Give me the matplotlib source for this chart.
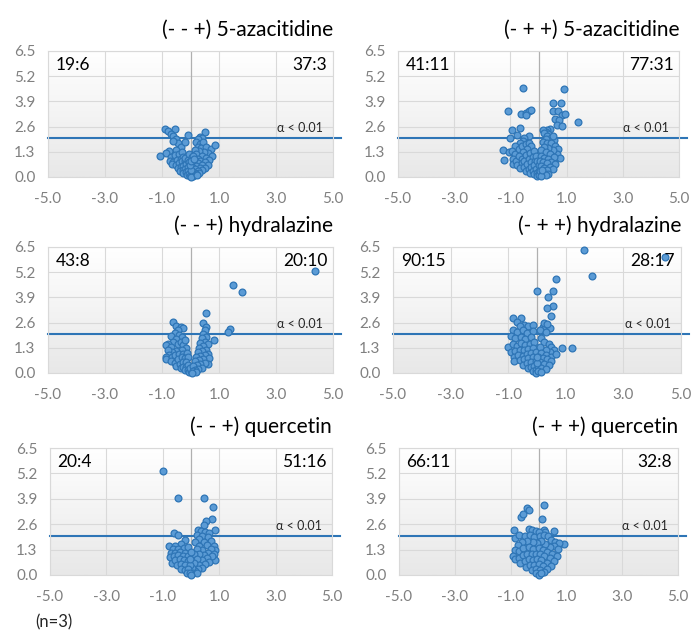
import numpy as np
import matplotlib
matplotlib.use("Agg")
import matplotlib.pyplot as plt
from matplotlib.colors import LinearSegmentedColormap

plt.rcParams['font.family'] = ['Lato', 'DejaVu Sans']

# panel titles and the counts printed in the upper corners
titles = ["(- - +) 5-azacitidine", "(- + +) 5-azacitidine",
          "(- - +) hydralazine", "(- + +) hydralazine",
          "(- - +) quercetin", "(- + +) quercetin"]
left_counts = ["19:6", "41:11", "43:8", "90:15", "20:4", "66:11"]
right_counts = ["37:3", "77:31", "20:10", "28:17", "51:16", "32:8"]

x_ticks = [-5.0, -3.0, -1.0, 1.0, 3.0, 5.0]
y_ticks = [0.0, 1.3, 2.6, 3.9, 5.2, 6.5]
alpha_cut = 2.0  # -log10(0.01)

# (log2 fold change, -log10 p)
aza_dd = [(-0.88, 2.50), (-0.55, 2.48), (-0.80, 2.35), (-0.70, 2.22), (-0.60, 2.10), (-0.50, 1.95),
          (-0.45, 1.75), (-0.62, 1.85), (-0.35, 1.55), (-0.50, 1.40), (-0.75, 1.35), (-0.85, 1.25),
          (-1.07, 1.10), (-0.68, 1.05), (-0.55, 1.15), (-0.40, 1.20), (-0.30, 1.30), (-0.72, 0.85),
          (-0.60, 0.75), (-0.48, 0.90), (-0.35, 0.95), (-0.25, 1.05), (-0.65, 0.65), (-0.50, 0.60),
          (-0.40, 0.70), (-0.30, 0.80), (-0.20, 0.85), (-0.45, 0.45), (-0.35, 0.50), (-0.25, 0.55),
          (-0.15, 0.65), (-0.38, 0.30), (-0.28, 0.35), (-0.18, 0.40), (-0.10, 0.50), (-0.25, 0.20),
          (-0.15, 0.25), (-0.08, 0.30), (-0.12, 0.12), (-0.05, 0.15), (-0.03, 0.05), (-0.20, 1.00),
          (-0.10, 0.90), (-0.05, 0.75), (-0.05, 1.20), (0.05, 1.05), (-0.08, 2.16), (-0.19, 1.82),
          (0.50, 2.30), (0.35, 2.05), (0.42, 2.00), (0.28, 1.95), (0.20, 1.80), (0.32, 1.70),
          (0.45, 1.80), (0.25, 1.55), (0.38, 1.50), (0.55, 1.55), (0.72, 1.45), (0.86, 1.65),
          (0.60, 1.25), (0.75, 1.10), (0.48, 1.30), (0.30, 1.35), (0.15, 1.40), (0.20, 1.20),
          (0.40, 1.10), (0.55, 1.00), (0.65, 0.90), (0.10, 1.10), (0.25, 0.95), (0.35, 0.85),
          (0.50, 0.75), (0.60, 0.60), (0.15, 0.85), (0.28, 0.70), (0.42, 0.60), (0.50, 0.45),
          (0.08, 0.70), (0.20, 0.55), (0.32, 0.45), (0.40, 0.35), (0.05, 0.50), (0.15, 0.40),
          (0.25, 0.30), (0.30, 0.20), (0.10, 0.25), (0.18, 0.15), (0.05, 0.10), (0.10, 0.05),
          (0.00, 0.00), (0.22, 0.10), (0.02, 0.35), (-0.02, 0.60), (0.00, 0.85), (0.12, 0.95)]

aza_pp = [(-0.56, 4.60), (0.92, 4.52), (-1.07, 3.40), (-0.62, 3.25), (-0.45, 3.30), (-0.35, 3.40),
          (-0.25, 3.45), (-0.45, 3.20), (0.50, 3.80), (0.80, 3.80), (0.50, 3.40), (0.70, 3.40),
          (0.85, 3.20), (0.95, 3.25), (0.60, 3.00), (0.72, 2.95), (0.65, 2.70), (0.85, 2.65),
          (1.42, 2.85), (0.40, 2.50), (0.30, 2.40), (0.25, 2.30), (-0.95, 2.45), (-0.65, 2.55),
          (-1.00, 2.00), (-0.35, 2.10), (-1.25, 1.39), (-1.22, 0.88), (-1.05, 1.30),
          (-0.75, 2.15), (-0.50, 2.00), (-0.55, 1.85), (-0.65, 1.75), (-0.85, 1.60), (-0.95, 1.35),
          (-0.85, 1.20), (-0.90, 0.95), (-0.90, 0.65), (-0.80, 0.80), (-0.70, 1.45), (-0.60, 1.60),
          (-0.45, 1.70), (-0.35, 1.75), (-0.25, 1.60), (-0.40, 1.45), (-0.55, 1.30), (-0.70, 1.10),
          (-0.60, 0.95), (-0.45, 1.15), (-0.30, 1.25), (-0.15, 1.35), (-0.75, 0.60), (-0.60, 0.70),
          (-0.50, 0.85), (-0.35, 0.95), (-0.20, 1.05), (-0.65, 0.45), (-0.50, 0.50), (-0.40, 0.65),
          (-0.25, 0.75), (-0.12, 0.85), (-0.45, 0.30), (-0.35, 0.40), (-0.25, 0.50), (-0.15, 0.60),
          (-0.30, 0.20), (-0.20, 0.30), (-0.10, 0.40), (-0.15, 0.15), (-0.05, 0.20), (-0.05, 0.05),
          (-0.10, 1.10), (-0.05, 0.80), (0.00, 0.60), (0.00, 0.30), (0.00, 0.10),
          (0.35, 2.20), (0.15, 2.45), (0.20, 2.25), (0.30, 2.10), (0.45, 2.00), (0.55, 1.90),
          (0.50, 2.10), (0.25, 1.95), (0.15, 1.80), (0.30, 1.75), (0.45, 1.75), (0.60, 1.60),
          (0.70, 1.45), (0.65, 1.20), (0.75, 1.00), (0.55, 0.85), (0.50, 1.40), (0.35, 1.50),
          (0.20, 1.55), (0.10, 1.40), (0.25, 1.30), (0.40, 1.20), (0.55, 1.05), (0.10, 1.10),
          (0.20, 1.00), (0.35, 0.95), (0.45, 0.75), (0.60, 0.65), (0.05, 0.85), (0.15, 0.75),
          (0.30, 0.70), (0.40, 0.50), (0.50, 0.40), (0.10, 0.55), (0.20, 0.45), (0.30, 0.35),
          (0.35, 0.15), (0.05, 0.30), (0.15, 0.20), (0.25, 0.10), (0.08, 0.05), (0.12, 0.35)]

hyd_dd = [(4.37, 5.27), (1.50, 4.54), (1.82, 4.16), (1.39, 2.25), (1.33, 2.10), (0.84, 1.70),
          (-0.63, 2.65), (-0.50, 2.45), (-0.35, 2.35), (-0.25, 2.30), (-0.45, 2.20), (-0.55, 2.05),
          (-0.70, 1.90), (-0.40, 1.95), (-0.30, 1.85), (-0.50, 1.75), (-0.60, 1.60), (-0.78, 1.50),
          (-0.85, 1.45), (-0.70, 1.35), (-0.45, 1.50), (-0.35, 1.60), (-0.25, 1.45), (-0.20, 1.70),
          (-0.15, 1.30), (-0.30, 1.20), (-0.50, 1.15), (-0.65, 1.10), (-0.80, 1.20), (-0.75, 0.95),
          (-0.86, 0.84), (-0.86, 0.70), (-0.65, 0.80), (-0.55, 0.95), (-0.40, 1.00), (-0.25, 1.00),
          (-0.12, 1.05), (-0.70, 0.60), (-0.55, 0.50), (-0.45, 0.70), (-0.30, 0.80), (-0.20, 0.75),
          (-0.10, 0.80), (-0.50, 0.35), (-0.38, 0.45), (-0.25, 0.55), (-0.15, 0.55), (-0.35, 0.25),
          (-0.25, 0.30), (-0.15, 0.30), (-0.08, 0.40), (-0.20, 0.15), (-0.10, 0.15), (-0.05, 0.05),
          (0.00, 0.10), (-0.02, 0.25),
          (0.54, 3.10), (0.45, 2.60), (0.55, 2.35), (0.50, 2.20), (0.45, 2.00), (0.55, 1.85),
          (0.40, 1.80), (0.50, 1.60), (0.35, 1.55), (0.60, 1.50), (0.45, 1.40), (0.30, 1.30),
          (0.55, 1.20), (0.40, 1.15), (0.25, 1.10), (0.62, 1.00), (0.50, 0.95), (0.35, 0.90),
          (0.20, 0.85), (0.65, 0.75), (0.45, 0.70), (0.30, 0.65), (0.15, 0.60), (0.62, 0.45),
          (0.50, 0.50), (0.35, 0.45), (0.22, 0.40), (0.10, 0.35), (0.40, 0.25), (0.28, 0.20),
          (0.15, 0.15), (0.08, 0.10), (0.20, 0.05), (0.05, 0.02)]

hyd_pp = [(1.63, 6.37), (4.44, 5.96), (1.90, 5.02), (0.66, 4.85), (-0.01, 4.23), (0.57, 4.23),
          (0.39, 3.93), (0.57, 3.45), (0.34, 3.35), (0.49, 2.94),
          (-0.85, 2.85), (-0.55, 2.85), (-0.70, 2.65), (-0.45, 2.50), (-0.60, 2.45), (-0.30, 2.45),
          (-0.15, 2.50), (-0.85, 2.20), (-0.70, 2.10), (-0.50, 2.20), (-0.35, 2.05), (-0.15, 2.15),
          (-0.90, 1.90), (-0.75, 1.80), (-0.55, 1.85), (-0.40, 1.75), (-0.20, 1.85), (-1.00, 1.36),
          (-0.85, 1.50), (-0.70, 1.40), (-0.55, 1.55), (-0.40, 1.45), (-0.25, 1.50), (-0.10, 1.60),
          (-0.90, 1.10), (-0.75, 1.15), (-0.60, 1.20), (-0.45, 1.20), (-0.30, 1.25), (-0.15, 1.30),
          (-0.80, 0.85), (-0.65, 0.95), (-0.50, 0.90), (-0.35, 1.00), (-0.20, 1.05), (-0.05, 1.10),
          (-0.80, 0.60), (-0.60, 0.65), (-0.45, 0.70), (-0.30, 0.75), (-0.15, 0.80), (-0.50, 0.40),
          (-0.35, 0.50), (-0.20, 0.55), (-0.05, 0.60), (-0.30, 0.25), (-0.20, 0.30), (-0.10, 0.35),
          (-0.15, 0.12), (-0.05, 0.15), (-0.02, 0.02),
          (0.20, 2.35), (0.45, 2.30), (0.25, 2.60), (0.35, 2.55), (0.10, 2.20), (0.30, 2.10),
          (0.15, 1.80), (0.25, 1.60), (0.40, 1.50), (0.50, 1.35), (0.88, 1.30), (1.20, 1.30),
          (0.60, 1.20), (0.45, 1.10), (0.30, 1.20), (0.10, 1.35), (0.15, 1.05), (0.30, 0.95),
          (0.50, 0.85), (0.65, 1.00), (0.05, 0.85), (0.20, 0.75), (0.35, 0.70), (0.50, 0.60),
          (0.10, 0.55), (0.25, 0.45), (0.40, 0.40), (0.05, 0.35), (0.15, 0.25), (0.30, 0.20),
          (0.05, 0.10), (0.15, 0.05), (0.00, 0.50), (0.00, 0.80)]

que_dd = [(-0.98, 5.30), (-0.45, 3.96), (0.46, 3.93), (0.77, 3.50), (0.73, 2.87), (0.52, 2.74),
          (0.45, 2.55), (0.85, 2.30), (-0.59, 2.17), (-0.45, 2.05), (-0.77, 1.50),
          (0.25, 2.30), (0.35, 2.25), (0.50, 2.20), (0.65, 2.15), (0.20, 2.05), (0.40, 2.00),
          (0.60, 1.95), (0.30, 1.85), (0.70, 1.75), (0.15, 1.70), (0.45, 1.70), (0.55, 1.55),
          (0.80, 1.50), (0.85, 1.30), (0.30, 1.50), (0.70, 1.35), (0.40, 1.30), (0.20, 1.35),
          (0.60, 1.15), (0.80, 1.05), (0.85, 0.77), (0.75, 0.95), (0.45, 1.00), (0.30, 1.05),
          (0.10, 1.10), (0.55, 0.85), (0.40, 0.75), (0.20, 0.80), (0.65, 0.65), (0.50, 0.55),
          (0.30, 0.50), (0.10, 0.60), (0.40, 0.35), (0.25, 0.30), (0.15, 0.20), (0.05, 0.35),
          (0.08, 0.08), (0.20, 0.10),
          (-0.20, 1.80), (-0.35, 1.60), (-0.55, 1.50), (-0.65, 1.35), (-0.45, 1.35), (-0.25, 1.40),
          (-0.10, 1.45), (-0.70, 1.15), (-0.55, 1.15), (-0.40, 1.20), (-0.20, 1.15), (-0.75, 0.90),
          (-0.60, 0.95), (-0.45, 1.00), (-0.30, 0.95), (-0.10, 0.95), (-0.68, 0.60), (-0.55, 0.75),
          (-0.40, 0.80), (-0.25, 0.75), (-0.10, 0.70), (-0.50, 0.50), (-0.35, 0.55), (-0.20, 0.50),
          (-0.05, 0.50), (-0.35, 0.30), (-0.20, 0.25), (-0.10, 0.30), (-0.15, 0.10), (-0.05, 0.12),
          (0.00, 0.00), (-0.02, 0.80), (0.00, 1.20)]

que_pp = [(-0.42, 3.42), (-0.35, 3.35), (0.21, 3.59), (-0.63, 2.99), (-0.55, 3.10), (0.14, 2.86),
          (-0.87, 2.31), (0.56, 2.26), (0.92, 1.59), (-0.35, 2.35), (-0.25, 2.30), (-0.10, 2.25),
          (0.20, 2.30), (0.25, 2.20), (0.00, 2.20),
          (-0.85, 1.90), (-0.70, 2.05), (-0.50, 2.00), (-0.30, 2.05), (-0.15, 1.95), (0.05, 2.00),
          (0.20, 2.05), (0.35, 2.00), (0.45, 1.80), (0.60, 1.70), (0.75, 1.65), (0.55, 1.50),
          (0.70, 1.35), (0.40, 1.45), (0.25, 1.60), (0.10, 1.75), (-0.05, 1.65), (-0.20, 1.70),
          (-0.40, 1.75), (-0.60, 1.70), (-0.75, 1.55), (-0.85, 1.30), (-0.70, 1.25), (-0.55, 1.40),
          (-0.35, 1.45), (-0.20, 1.35), (0.00, 1.40), (0.15, 1.30), (0.30, 1.20), (0.50, 1.10),
          (0.65, 0.95), (-0.90, 0.95), (-0.85, 0.80), (-0.70, 0.85), (-0.55, 1.00), (-0.40, 1.10),
          (-0.25, 1.05), (-0.10, 1.10), (0.05, 1.05), (0.20, 0.95), (0.40, 0.85), (0.55, 0.70),
          (-0.65, 0.60), (-0.50, 0.70), (-0.35, 0.80), (-0.20, 0.75), (-0.05, 0.80), (0.10, 0.75),
          (0.30, 0.60), (0.45, 0.45), (-0.45, 0.40), (-0.30, 0.50), (-0.15, 0.50), (0.00, 0.55),
          (0.15, 0.45), (0.30, 0.30), (-0.25, 0.25), (-0.10, 0.30), (0.05, 0.25), (0.20, 0.15),
          (-0.10, 0.10), (0.00, 0.02), (0.10, 0.08)]

panels = [aza_dd, aza_pp, hyd_dd, hyd_pp, que_dd, que_pp]

# axes boxes in pixels: left, top, right, bottom
boxes = [(48, 51, 333, 177), (398, 51, 679, 177),
         (48, 247, 333, 373), (393, 247, 681, 373),
         (50, 448, 332, 575), (399, 448, 678, 575)]

W, H = 691, 630
fig = plt.figure(figsize=(W / 100, H / 100), dpi=100)

grad = LinearSegmentedColormap.from_list("bg", ["#E8E8E8", "#FFFFFF"])
blue = "#2E75B6"

for i, pts in enumerate(panels):
    l, t, r, b = boxes[i]
    ax = fig.add_axes([l / W, 1 - b / H, (r - l) / W, (b - t) / H])
    ax.set_xlim(-5, 5)
    ax.set_ylim(0, 6.5)

    # plot area fill, white at the top fading to light grey
    ax.imshow(np.linspace(0, 1, 100).reshape(-1, 1), cmap=grad, origin="lower",
              extent=[-5, 5, 0, 6.5], aspect="auto", zorder=0)

    ax.set_xticks(x_ticks)
    ax.set_yticks(y_ticks)
    ax.set_xticklabels([f"{v:.1f}" for v in x_ticks])
    ax.set_yticklabels([f"{v:.1f}" for v in y_ticks])
    ax.tick_params(length=0, labelsize=11, colors="#808080")
    ax.tick_params(axis="x", pad=11)
    ax.tick_params(axis="y", pad=9)
    ax.grid(True, color="#D9D9D9", linewidth=0.8, zorder=1)
    ax.set_axisbelow(True)
    for s in ax.spines.values():
        s.set_color("#D9D9D9")
        s.set_linewidth(0.8)
    ax.axvline(0, color="#B0B0B0", linewidth=0.9, zorder=1.5)

    ax.axhline(alpha_cut, xmin=0, xmax=1.027, color=blue, linewidth=1.5,
               clip_on=False, zorder=2)

    xs, ys = zip(*pts)
    ax.scatter(xs, ys, s=24, facecolor="#5B9BD5", edgecolor=blue, linewidth=0.9,
               zorder=3, clip_on=False)

    ax.text(0.965, (alpha_cut + 0.2) / 6.5, "α < 0.01", transform=ax.transAxes,
            ha="right", va="bottom", fontsize=9, color="#262626")
    ax.text(0.027, 0.89, left_counts[i], transform=ax.transAxes, ha="left", va="center",
            fontsize=12.5, color="#000000")
    ax.text(0.98, 0.89, right_counts[i], transform=ax.transAxes, ha="right", va="center",
            fontsize=12.5, color="#000000")
    ax.text(1.0, 1.085, titles[i], transform=ax.transAxes, ha="right", va="bottom",
            fontsize=15, color="#000000")

fig.text(35 / W, 1 - 622 / H, "(n=3)", ha="left", va="center", fontsize=12, color="#262626")

fig.savefig("out.png", dpi=100)
